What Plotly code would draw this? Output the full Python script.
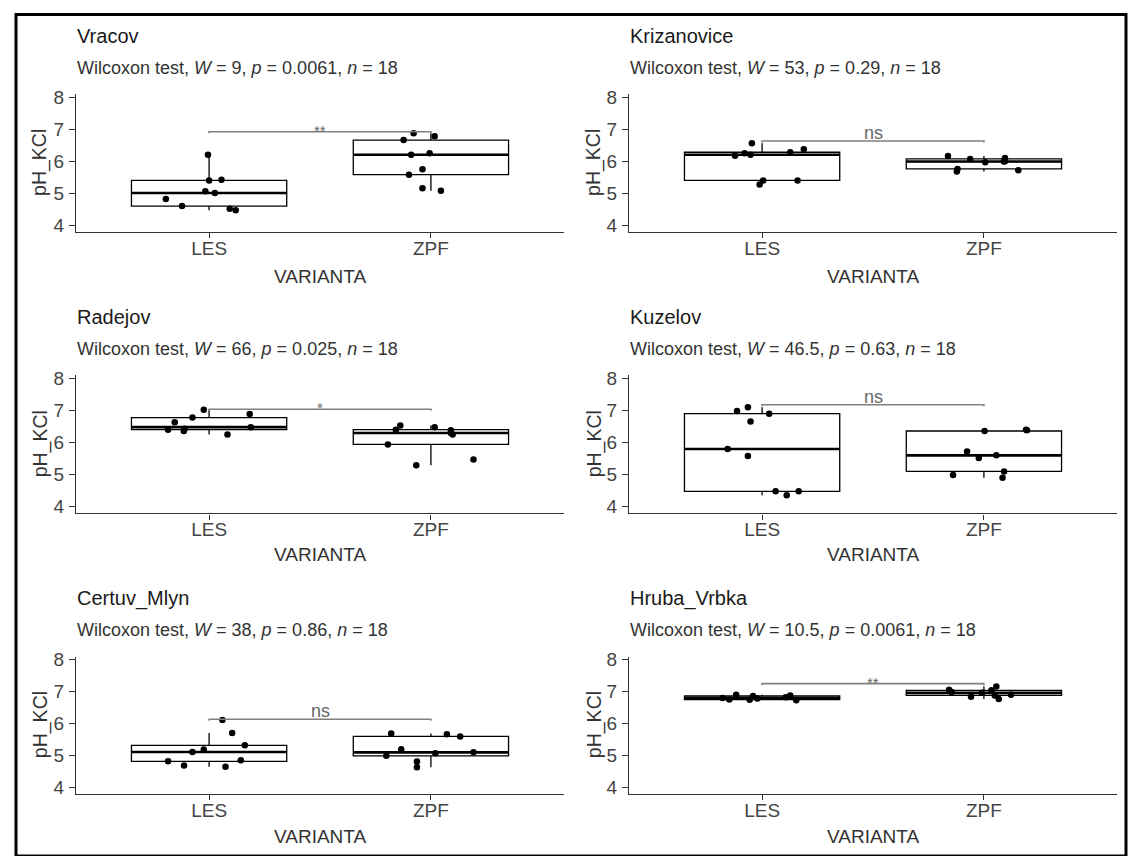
import numpy as np
import plotly.graph_objects as go

# ---- data -------------------------------------------------------------
sites = ["Vracov", "Krizanovice", "Radejov", "Kuzelov", "Certuv_Mlyn", "Hruba_Vrbka"]
groups = ["LES", "ZPF"]
w_stat = ["9", "53", "66", "46.5", "38", "10.5"]
p_value = ["0.0061", "0.29", "0.025", "0.63", "0.86", "0.0061"]
n_obs = 18
signif = ["**", "ns", "*", "ns", "ns", "**"]
bracket_y = [6.92, 6.63, 7.04, 7.18, 6.13, 7.25]

vracov_les = [6.20, 5.40, 5.42, 5.06, 5.01, 4.82, 4.60, 4.52, 4.47]
vracov_zpf = [6.66, 6.87, 6.78, 6.20, 6.25, 5.75, 5.58, 5.16, 5.08]
krizanovice_les = [6.17, 6.25, 6.20, 6.56, 6.28, 6.37, 5.27, 5.40, 5.40]
krizanovice_zpf = [6.16, 6.07, 5.97, 6.10, 6.00, 5.76, 5.68, 5.72, 5.99]
radejov_les = [6.25, 6.36, 6.40, 6.43, 6.48, 6.63, 6.78, 6.89, 7.02]
radejov_zpf = [5.94, 6.40, 6.53, 6.48, 6.38, 6.30, 6.25, 5.29, 5.47]
kuzelov_les = [6.98, 7.10, 6.90, 6.66, 5.80, 5.58, 4.48, 4.36, 4.48]
kuzelov_zpf = [6.36, 6.40, 6.38, 5.72, 5.52, 5.60, 5.10, 4.90, 4.99]
certuv_les = [6.11, 5.70, 5.31, 5.18, 5.10, 4.81, 4.68, 4.64, 4.84]
certuv_zpf = [5.68, 5.66, 5.59, 5.19, 5.06, 5.09, 4.98, 4.80, 4.62]
hruba_les = [6.80, 6.75, 6.90, 6.74, 6.86, 6.78, 6.82, 6.88, 6.73]
hruba_zpf = [7.06, 6.99, 6.84, 6.96, 7.16, 6.88, 6.77, 6.90, 7.04]

# horizontal jitter of the individual points (category units)
jit_vracov_les = [-0.005, 0.0, 0.056, -0.017, 0.026, -0.195, -0.122, 0.093, 0.12]
jit_vracov_zpf = [-0.123, -0.078, 0.017, -0.089, -0.006, -0.038, -0.099, -0.038, 0.045]
jit_krizanovice_les = [-0.122, -0.079, -0.052, -0.046, 0.127, 0.188, -0.011, 0.005, 0.16]
jit_krizanovice_zpf = [-0.162, -0.062, 0.006, 0.095, 0.095, -0.119, -0.122, 0.155, 0.09]
jit_radejov_les = [0.083, -0.114, -0.185, -0.11, 0.188, -0.155, -0.075, 0.183, -0.024]
jit_radejov_zpf = [-0.194, -0.158, -0.138, 0.017, 0.09, 0.09, 0.098, -0.066, 0.192]
jit_kuzelov_les = [-0.113, -0.064, 0.032, -0.052, -0.155, -0.064, 0.061, 0.111, 0.165]
jit_kuzelov_zpf = [0.003, 0.19, 0.194, -0.076, -0.023, 0.056, 0.091, 0.084, -0.139]
jit_certuv_les = [0.06, 0.104, 0.161, -0.024, -0.075, -0.185, -0.113, 0.074, 0.143]
jit_certuv_zpf = [-0.179, 0.072, 0.132, -0.134, 0.02, 0.192, -0.201, -0.063, -0.063]
jit_hruba_les = [-0.178, -0.148, -0.117, -0.056, -0.041, -0.021, 0.107, 0.127, 0.154]
jit_hruba_zpf = [-0.157, -0.146, -0.058, -0.009, 0.056, 0.049, 0.067, 0.122, 0.034]

values = [
    (vracov_les, vracov_zpf),
    (krizanovice_les, krizanovice_zpf),
    (radejov_les, radejov_zpf),
    (kuzelov_les, kuzelov_zpf),
    (certuv_les, certuv_zpf),
    (hruba_les, hruba_zpf),
]
jitters = [
    (jit_vracov_les, jit_vracov_zpf),
    (jit_krizanovice_les, jit_krizanovice_zpf),
    (jit_radejov_les, jit_radejov_zpf),
    (jit_kuzelov_les, jit_kuzelov_zpf),
    (jit_certuv_les, jit_certuv_zpf),
    (jit_hruba_les, jit_hruba_zpf),
]

# ---- layout geometry (pixels) -----------------------------------------
W, H = 1133, 856
FONT = "Liberation Sans, Arial, sans-serif"
col_x = [(76, 564), (629, 1117)]
row_y = [(88, 228), (373, 513), (658, 797)]
title_y = [29, 314, 599]
sub_y = [61.5, 346.5, 631.5]
xlab_y = [273, 555, 840]
ylab_x = [40, 594]
BOX_W = 0.7
TIP = 0.05


def px(x):
    return x / W


def py(y):
    return 1 - y / H


fig = go.Figure()
layout = dict(
    width=W, height=H,
    margin=dict(l=0, r=0, t=0, b=0),
    paper_bgcolor="white", plot_bgcolor="white",
    showlegend=False,
    font=dict(family=FONT, color="#333333"),
)
annotations = []

for i, site in enumerate(sites):
    r, c = divmod(i, 2)
    k = "" if i == 0 else str(i + 1)
    xa, ya = "x" + k, "y" + k
    x0, x1 = col_x[c]
    y0, y1 = row_y[r]

    layout["xaxis" + k] = dict(
        domain=[px(x0), px(x1)], range=[0.4, 2.6], anchor=ya,
        tickvals=[1, 2], ticktext=groups,
        showline=True, linecolor="#333333", linewidth=1.3,
        ticks="outside", ticklen=5, tickwidth=1.3, tickcolor="#333333",
        ticklabelstandoff=-6,
        showgrid=False, zeroline=False,
        tickfont=dict(size=19, color="#444444", family=FONT),
    )
    layout["yaxis" + k] = dict(
        domain=[py(y1), py(y0)], range=[3.79, 8.1], anchor=xa,
        tickvals=[4, 5, 6, 7, 8],
        showline=True, linecolor="#333333", linewidth=1.3,
        ticks="outside", ticklen=6, tickwidth=1.3, tickcolor="#333333",
        ticklabelstandoff=1,
        showgrid=False, zeroline=False,
        tickfont=dict(size=19, color="#444444", family=FONT),
    )

    for g, (vals, jit) in enumerate(zip(values[i], jitters[i])):
        pos = g + 1
        fig.add_trace(go.Box(
            x=[pos] * len(vals), y=vals, xaxis=xa, yaxis=ya,
            width=BOX_W, quartilemethod="inclusive",
            boxpoints="outliers", marker=dict(opacity=0, size=1),
            fillcolor="white", line=dict(color="black", width=1.3),
            whiskerwidth=0, hoverinfo="skip",
        ))
        med = float(np.median(vals))
        fig.add_trace(go.Scatter(
            x=[pos - BOX_W / 2, pos + BOX_W / 2], y=[med, med],
            xaxis=xa, yaxis=ya, mode="lines",
            line=dict(color="black", width=2.6), hoverinfo="skip",
        ))
        fig.add_trace(go.Scatter(
            x=[pos + j for j in jit], y=vals, xaxis=xa, yaxis=ya,
            mode="markers", marker=dict(color="black", size=6.5),
            hoverinfo="skip",
        ))

    # comparison bracket
    b = bracket_y[i]
    fig.add_trace(go.Scatter(
        x=[1, 1, 2, 2], y=[b - TIP, b, b, b - TIP], xaxis=xa, yaxis=ya,
        mode="lines", line=dict(color="#808080", width=1.6), hoverinfo="skip",
    ))
    star = signif[i] != "ns"
    annotations.append(dict(
        x=1.5, y=b, xref=xa, yref=ya, text=signif[i], showarrow=False,
        xanchor="center", yanchor="bottom", yshift=-9 if star else -4,
        font=dict(size=15 if star else 18, color="#666666", family=FONT),
    ))

    # panel title and test subtitle
    annotations.append(dict(
        x=px(x0 - 1), y=py(title_y[r]), xref="paper", yref="paper",
        text=site, showarrow=False, xanchor="left", yanchor="middle",
        font=dict(size=20, color="#1a1a1a", family=FONT),
    ))
    annotations.append(dict(
        x=px(x0 - 1), y=py(sub_y[r]), xref="paper", yref="paper",
        text=f"Wilcoxon test, <i>W</i> = {w_stat[i]}, <i>p</i> = {p_value[i]}, <i>n</i> = {n_obs}",
        showarrow=False, xanchor="left", yanchor="middle",
        font=dict(size=18, color="#333333", family=FONT),
    ))
    # axis titles
    annotations.append(dict(
        x=px((x0 + x1) / 2), y=py(xlab_y[r]), xref="paper", yref="paper",
        text="VARIANTA", showarrow=False, xanchor="center", yanchor="middle",
        font=dict(size=19, color="#333333", family=FONT),
    ))
    annotations.append(dict(
        x=px(ylab_x[c]), y=py((y0 + y1) / 2), xref="paper", yref="paper",
        text="pH_KCl", showarrow=False, textangle=-90,
        xanchor="center", yanchor="middle",
        font=dict(size=19.5, color="#333333", family=FONT),
    ))

layout["annotations"] = annotations
layout["shapes"] = [dict(
    type="rect", xref="paper", yref="paper",
    x0=px(16), x1=px(1126), y0=py(860), y1=py(7.5),
    line=dict(color="black", width=3), fillcolor="rgba(0,0,0,0)",
)]
fig.update_layout(**layout)
fig.write_html("out.html")
